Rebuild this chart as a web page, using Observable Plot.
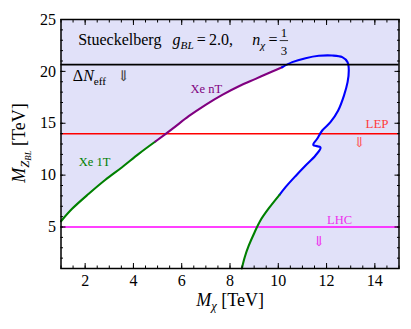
<!DOCTYPE html>
<html>
<head>
<meta charset="utf-8">
<script src="https://cdn.jsdelivr.net/npm/d3@7"></script>
<script src="https://cdn.jsdelivr.net/npm/@observablehq/plot@0.6"></script>
<style>
  body { margin: 0; background: #fff; }
  #chart svg { display: block; }
  #chart svg, #chart svg text, #chart svg tspan { font-family: "Liberation Serif", "DejaVu Serif", serif; }
</style>
</head>
<body>
<div id="chart"></div>
<script>
// ---- data ----
const xe1tUpperX = [1.00, 1.46, 2.15, 2.84, 3.53, 4.22, 4.91];
const xe1tUpperY = [5.55, 6.75, 8.20, 9.55, 10.76, 12.05, 13.24];
const xentX = [4.91, 5.61, 6.29, 6.99, 7.68, 8.37, 9.06, 9.75, 10.16];
const xentY = [13.24, 14.46, 15.68, 16.78, 17.74, 18.57, 19.28, 19.99, 20.40];
const blueX = [10.16, 10.58, 11.13, 11.68, 12.23, 12.65, 12.87, 12.92, 12.87, 12.72, 12.48, 12.16, 11.82, 11.61, 11.45, 11.75, 11.54, 11.13, 10.71, 10.30, 10.05];
const blueY = [20.40, 20.89, 21.27, 21.50, 21.53, 21.37, 20.89, 20.08, 18.96, 17.67, 16.23, 15.10, 14.30, 13.50, 12.92, 12.66, 11.89, 10.93, 9.90, 8.84, 8.10];
const xe1tLowerX = [10.05, 9.61, 9.26, 9.02, 8.78, 8.61, 8.49];
const xe1tLowerY = [8.10, 6.81, 5.63, 4.50, 3.22, 2.09, 1.00];

const deltaNeffLimit = 20.65;
const lepLimit = 14;
const lhcLimit = 5;

const xDomain = [1, 15];
const yDomain = [1, 25];
const xMajor = [2, 4, 6, 8, 10, 12, 14];
const yMajor = [5, 10, 15, 20, 25];
const xMinor = d3.range(1, 15.001, 0.5);
const yMinor = d3.range(1, 25.001, 1);

const titleText = "Stueckelberg\u2002\u2009*g*_{*BL*}\u2009=\u20092.0,\u2003\u2009*n*_{*χ*}\u2009=\u2009\\frac{1}{3}";
const xLabel = "*M*_{*χ*}\u00a0[TeV]";
const yLabel = "*M*_{*Z*_{*BL*}}\u00a0[TeV]";

// ---- build tables ----
const zip = (xs, ys) => xs.map((x, i) => ({x, y: ys[i]}));
const segUpper = zip(xe1tUpperX, xe1tUpperY);
const segXent = zip(xentX, xentY);
const segBlue = zip(blueX, blueY);
const segLower = zip(xe1tLowerX, xe1tLowerY);
const region = [...segUpper, ...segXent, ...segBlue, ...segLower, {x: xDomain[0], y: yDomain[0]}];

const lavender = "#e1e1f9";
const lineW = 2.1;
const serif = "Liberation Serif, DejaVu Serif, serif";

const plot = Plot.plot({
  width: 411,
  height: 329,
  marginLeft: 60.5,
  marginRight: 12.5,
  marginTop: 19,
  marginBottom: 61,
  style: {fontFamily: serif, fontSize: "16px", background: "white", color: "black"},
  x: {domain: xDomain, label: null},
  y: {domain: yDomain, label: null},
  marks: [
    Plot.frame({fill: lavender}),
    Plot.line(region, {x: "x", y: "y", fill: "white", stroke: "none", curve: "linear-closed"}),
    Plot.rect([{x1: xDomain[0], x2: xDomain[1], y1: deltaNeffLimit, y2: yDomain[1]}], {x1: "x1", x2: "x2", y1: "y1", y2: "y2", fill: lavender}),
    Plot.ruleY([lhcLimit], {stroke: "#ff00ff", strokeWidth: 1.7}),
    Plot.ruleY([lepLimit], {stroke: "#ff0000", strokeWidth: 1.5}),
    Plot.line(segUpper, {x: "x", y: "y", stroke: "#008000", strokeWidth: lineW, curve: "catmull-rom"}),
    Plot.line(segXent, {x: "x", y: "y", stroke: "#800080", strokeWidth: lineW, curve: "catmull-rom"}),
    Plot.line(segBlue, {x: "x", y: "y", stroke: "#0000ff", strokeWidth: lineW, curve: "catmull-rom"}),
    Plot.line(segLower, {x: "x", y: "y", stroke: "#008000", strokeWidth: lineW, curve: "catmull-rom"}),
    Plot.ruleY([deltaNeffLimit], {stroke: "black", strokeWidth: 1.6}),

    // annotations
    Plot.text([titleText], {x: 1.71, y: 23.0, text: d => d, textAnchor: "start", fontSize: 16, fontFamily: serif}),
    Plot.text(["Δ*N*_{eff}"], {x: 1.49, y: 19.55, text: d => d, textAnchor: "start", fontSize: 16, fontFamily: serif}),
    Plot.text(["⇓"], {x: 3.6, y: 19.55, text: d => d, fontSize: 15, fill: "#444"}),
    Plot.text(["Xe\u00a0nT"], {x: 7.02, y: 18.32, text: d => d, fontSize: 12.5, fill: "#800080", fontFamily: serif}),
    Plot.text(["Xe\u00a01T"], {x: 2.39, y: 11.31, text: d => d, fontSize: 12.5, fill: "#008000", fontFamily: serif}),
    Plot.text(["LEP"], {x: 14.09, y: 14.92, text: d => d, fontSize: 13, fill: "#ff3c3c", fontFamily: serif}),
    Plot.text(["⇓"], {x: 13.36, y: 13.17, text: d => d, fontSize: 14, fill: "#ff5a5a"}),
    Plot.text(["LHC"], {x: 12.54, y: 5.69, text: d => d, fontSize: 12.5, fill: "#ee30ee", fontFamily: serif}),
    Plot.text(["⇓"], {x: 11.68, y: 3.6, text: d => d, fontSize: 14, fill: "#ee30ee"}),

    // axis labels
    Plot.text([xLabel], {x: 8, y: yDomain[0], dy: 32, text: d => d, fontSize: 18, fontFamily: serif}),
    Plot.text([yLabel], {x: xDomain[0], y: 13.1, dx: -42, rotate: -90, text: d => d, fontSize: 18, fontFamily: serif}),

    // tick labels
    Plot.axisX(xMajor, {anchor: "bottom", tickSize: 0, tickPadding: 6, fontSize: 16, label: null, fontFamily: serif}),
    Plot.axisY(yMajor, {anchor: "left", tickSize: 0, tickPadding: 5, fontSize: 16, label: null, fontFamily: serif}),

    // inward ticks
    Plot.axisX(xMajor, {anchor: "bottom", tickSize: 5, dy: -5, fill: "none", label: null}),
    Plot.axisX(xMinor, {anchor: "bottom", tickSize: 2.5, dy: -2.5, fill: "none", label: null}),
    Plot.axisX(xMajor, {anchor: "top", tickSize: 5, dy: 5, fill: "none", label: null}),
    Plot.axisX(xMinor, {anchor: "top", tickSize: 2.5, dy: 2.5, fill: "none", label: null}),
    Plot.axisY(yMajor, {anchor: "left", tickSize: 5, dx: 5, fill: "none", label: null}),
    Plot.axisY(yMinor, {anchor: "left", tickSize: 2.5, dx: 2.5, fill: "none", label: null}),
    Plot.axisY(yMajor, {anchor: "right", tickSize: 5, dx: -5, fill: "none", label: null}),
    Plot.axisY(yMinor, {anchor: "right", tickSize: 2.5, dx: -2.5, fill: "none", label: null}),

    Plot.frame({stroke: "black", strokeWidth: 1.5})
  ]
});

document.getElementById("chart").appendChild(plot);

// ---- rich text (italics, subscripts, fraction) ----
const NS = "http://www.w3.org/2000/svg";
function findClose(s, open) {
  let depth = 0;
  for (let k = open; k < s.length; k++) {
    if (s[k] === "{") depth++;
    else if (s[k] === "}") { depth--; if (depth === 0) return k; }
  }
  return s.length;
}
function richText(el) {
  const src = el.textContent;
  if (!/[_*\\]/.test(src)) return;
  const fs = parseFloat(getComputedStyle(el).fontSize) || 16;
  while (el.firstChild) el.removeChild(el.firstChild);
  let italic = false, cur = 0, chars = 0;
  const fracs = [];
  const emit = (txt, size, off) => {
    const t = document.createElementNS(NS, "tspan");
    t.textContent = txt;
    t.setAttribute("font-size", size);
    if (italic) t.setAttribute("font-style", "italic");
    const d = off - cur;
    if (d) t.setAttribute("dy", d);
    cur = off;
    el.appendChild(t);
    const start = chars;
    chars += txt.length;
    return {t, start};
  };
  const parse = (s, size, off) => {
    let buf = "";
    const flush = () => { if (buf) { emit(buf, size, off); buf = ""; } };
    let k = 0;
    while (k < s.length) {
      const c = s[k];
      if (c === "*") { flush(); italic = !italic; k++; }
      else if (c === "_" && s[k + 1] === "{") {
        flush();
        const e = findClose(s, k + 1);
        parse(s.slice(k + 2, e), size * 0.7, off + size * 0.22);
        k = e + 1;
      } else if (s.startsWith("\\frac{", k)) {
        flush();
        const e1 = findClose(s, k + 5);
        const num = s.slice(k + 6, e1);
        const e2 = findClose(s, e1 + 1);
        const den = s.slice(e1 + 2, e2);
        const fsz = size * 0.8;
        const n = emit(num, fsz, off - size * 0.52);
        const wn = n.t.getComputedTextLength();
        const d = emit(den, fsz, off + size * 0.6);
        const wd = d.t.getComputedTextLength();
        d.t.setAttribute("dx", -(wn + wd) / 2);
        fracs.push({start: n.start, w: Math.max(wn, wd), size});
        k = e2 + 1;
      } else { buf += c; k++; }
    }
    flush();
  };
  parse(src, fs, 0);
  for (const f of fracs) {
    const p = el.getStartPositionOfChar(f.start);
    const line = document.createElementNS(NS, "line");
    const by = p.y + f.size * 0.22;
    line.setAttribute("x1", p.x - 1);
    line.setAttribute("x2", p.x + f.w + 1);
    line.setAttribute("y1", by);
    line.setAttribute("y2", by);
    line.setAttribute("stroke", "black");
    line.setAttribute("stroke-width", 0.8);
    const tr = el.getAttribute("transform");
    if (tr) line.setAttribute("transform", tr);
    el.parentNode.appendChild(line);
  }
}
plot.querySelectorAll("text").forEach(richText);
</script>
</body>
</html>
